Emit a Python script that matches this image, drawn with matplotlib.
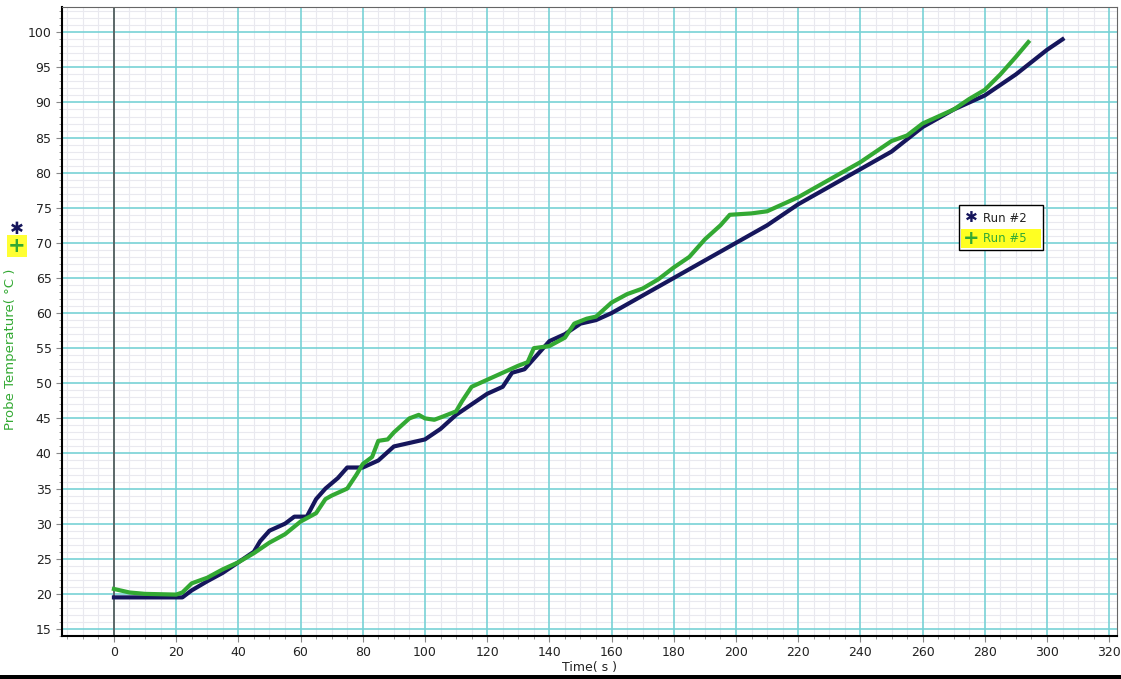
import matplotlib.pyplot as plt
import matplotlib.patches as mpatches
import numpy as np

# Run #2 (navy)
run2_t = [0, 10, 20, 22, 25, 30, 35, 40, 45, 47, 50, 55, 58, 62, 65, 68, 72, 75, 80, 85, 90,
          95, 100, 105, 110, 115, 120, 125, 128, 132, 136, 140, 145, 150, 155, 160, 170,
          180, 190, 200, 210, 220, 230, 240, 250, 260, 270, 280, 290, 300, 305]
run2_T = [19.5, 19.5, 19.5, 19.5, 20.5, 21.8, 23.0, 24.5, 26.0, 27.5, 29.0, 30.0, 31.0, 31.0,
          33.5, 35.0, 36.5, 38.0, 38.0, 39.0, 41.0, 41.5, 42.0, 43.5, 45.5, 47.0, 48.5, 49.5,
          51.5, 52.0, 54.0, 56.0, 57.0, 58.5, 59.0, 60.0, 62.5, 65.0, 67.5, 70.0, 72.5, 75.5,
          78.0, 80.5, 83.0, 86.5, 89.0, 91.0, 94.0, 97.5, 99.0]

# Run #5 (green)
run5_t = [0, 5, 10, 20, 22, 25, 30, 35, 40, 45, 50, 55, 60, 65, 68, 70, 75, 78, 80, 83, 85, 88,
          90, 95, 98, 100, 103, 106, 110, 112, 115, 120, 125, 130, 133, 135, 140, 145, 148,
          152, 155, 160, 165, 170, 175, 180, 185, 190, 195, 198, 205, 210, 220, 230, 240,
          250, 255, 260, 270, 275, 280, 285, 290, 294]
run5_T = [20.7, 20.2, 20.0, 19.9, 20.2, 21.5, 22.3, 23.5, 24.5, 25.8, 27.3, 28.5, 30.3, 31.5,
          33.5, 34.0, 35.0, 37.0, 38.5, 39.5, 41.8, 42.0, 43.0, 45.0, 45.5, 45.0, 44.8, 45.3,
          46.0, 47.5, 49.5, 50.5, 51.5, 52.5, 53.0, 55.0, 55.3, 56.5, 58.5, 59.2, 59.5, 61.5,
          62.7, 63.5, 64.8, 66.5, 68.0, 70.5, 72.5, 74.0, 74.2, 74.5, 76.5, 79.0, 81.5, 84.5,
          85.3, 87.0, 89.0, 90.5, 91.8, 94.0, 96.5, 98.6]

x_ticks = list(range(0, 321, 20))
y_ticks = list(range(15, 101, 5))

navy = '#16165c'
green = '#33a933'

fig = plt.figure(figsize=(11.21, 6.79), dpi=100)
ax = fig.add_axes([62 / 1121, 1 - 636 / 679, (1117 - 62) / 1121, (636 - 7) / 679])

ax.set_xlim(-16.7, 322.5)
ax.set_ylim(14.0, 103.6)
ax.set_xticks(x_ticks)
ax.set_yticks(y_ticks)
x_minor = [v for v in np.arange(-15, 323, 5) if v % 20 != 0]
y_minor = [v for v in np.arange(14, 104, 1) if v % 5 != 0]
ax.set_xticks(x_minor, minor=True)
ax.set_yticks(y_minor, minor=True)

# grid: faint minor lines, cyan major lines
for v in x_minor:
    ax.axvline(v, color='#e9e9ef', lw=0.8, zorder=0.5)
for v in y_minor:
    ax.axhline(v, color='#e9e9ef', lw=0.8, zorder=0.5)
for v in x_ticks:
    ax.axvline(v, color='#78d2d6', lw=1.2, zorder=1)
for v in y_ticks:
    ax.axhline(v, color='#78d2d6', lw=1.2, zorder=1)
ax.axvline(0, color='#555555', lw=1.2, zorder=1.5)

ax.plot(run2_t, run2_T, color=navy, lw=3.0, zorder=3)
ax.plot(run5_t, run5_T, color=green, lw=3.0, zorder=4)

ax.tick_params(which='both', labelsize=9, colors='#888888', labelcolor='#222222',
               direction='out')
ax.tick_params(which='major', length=4)
ax.tick_params(which='minor', length=2.5)
for side in ['left', 'bottom']:
    ax.spines[side].set_color('black')
    ax.spines[side].set_linewidth(1.5)
for side in ['top', 'right']:
    ax.spines[side].set_color('#666666')

ax.set_xlabel('Time( s )', fontsize=9, color='#222222', labelpad=1)
ax.set_ylabel('Probe Temperature( °C )', fontsize=9.5, color=green)
ax.yaxis.set_label_coords(-0.043, 0.455)

# markers above the y label
fig.text(17 / 1121, 1 - 229 / 679, '✱', color=navy, fontsize=12, ha='center', va='center',
         fontweight='bold')
fig.text(17 / 1121, 1 - 246 / 679, '+', color=green, fontsize=15, ha='center', va='center',
         fontweight='bold', bbox=dict(boxstyle='square,pad=0.05', fc='#ffff33', ec='none'))

# legend box
lx0, ly0, lw_, lh_ = 959, 205, 84, 45
fig.patches.append(mpatches.Rectangle((lx0 / 1121, 1 - (ly0 + lh_) / 679), lw_ / 1121, lh_ / 679,
                                      transform=fig.transFigure, fc='white', ec='black', lw=1,
                                      zorder=5))
fig.patches.append(mpatches.Rectangle((961 / 1121, 1 - 248 / 679), 80 / 1121, 19 / 679,
                                      transform=fig.transFigure, fc='#ffff22', ec='none',
                                      zorder=6))
fig.text(971 / 1121, 1 - 218 / 679, '✱', color=navy, fontsize=11, ha='center', va='center',
         fontweight='bold', zorder=7)
fig.text(983 / 1121, 1 - 218 / 679, 'Run #2', color='#222222', fontsize=8.5, ha='left',
         va='center', zorder=7)
fig.text(971 / 1121, 1 - 238 / 679, '+', color=green, fontsize=14, ha='center', va='center',
         fontweight='bold', zorder=7)
fig.text(983 / 1121, 1 - 238 / 679, 'Run #5', color=green, fontsize=8.5, ha='left',
         va='center', zorder=7)

# black bar at the bottom edge
fig.patches.append(mpatches.Rectangle((0, 0), 1, 4 / 679, transform=fig.transFigure,
                                      fc='black', ec='none'))

fig.savefig('out.png', dpi=100)
